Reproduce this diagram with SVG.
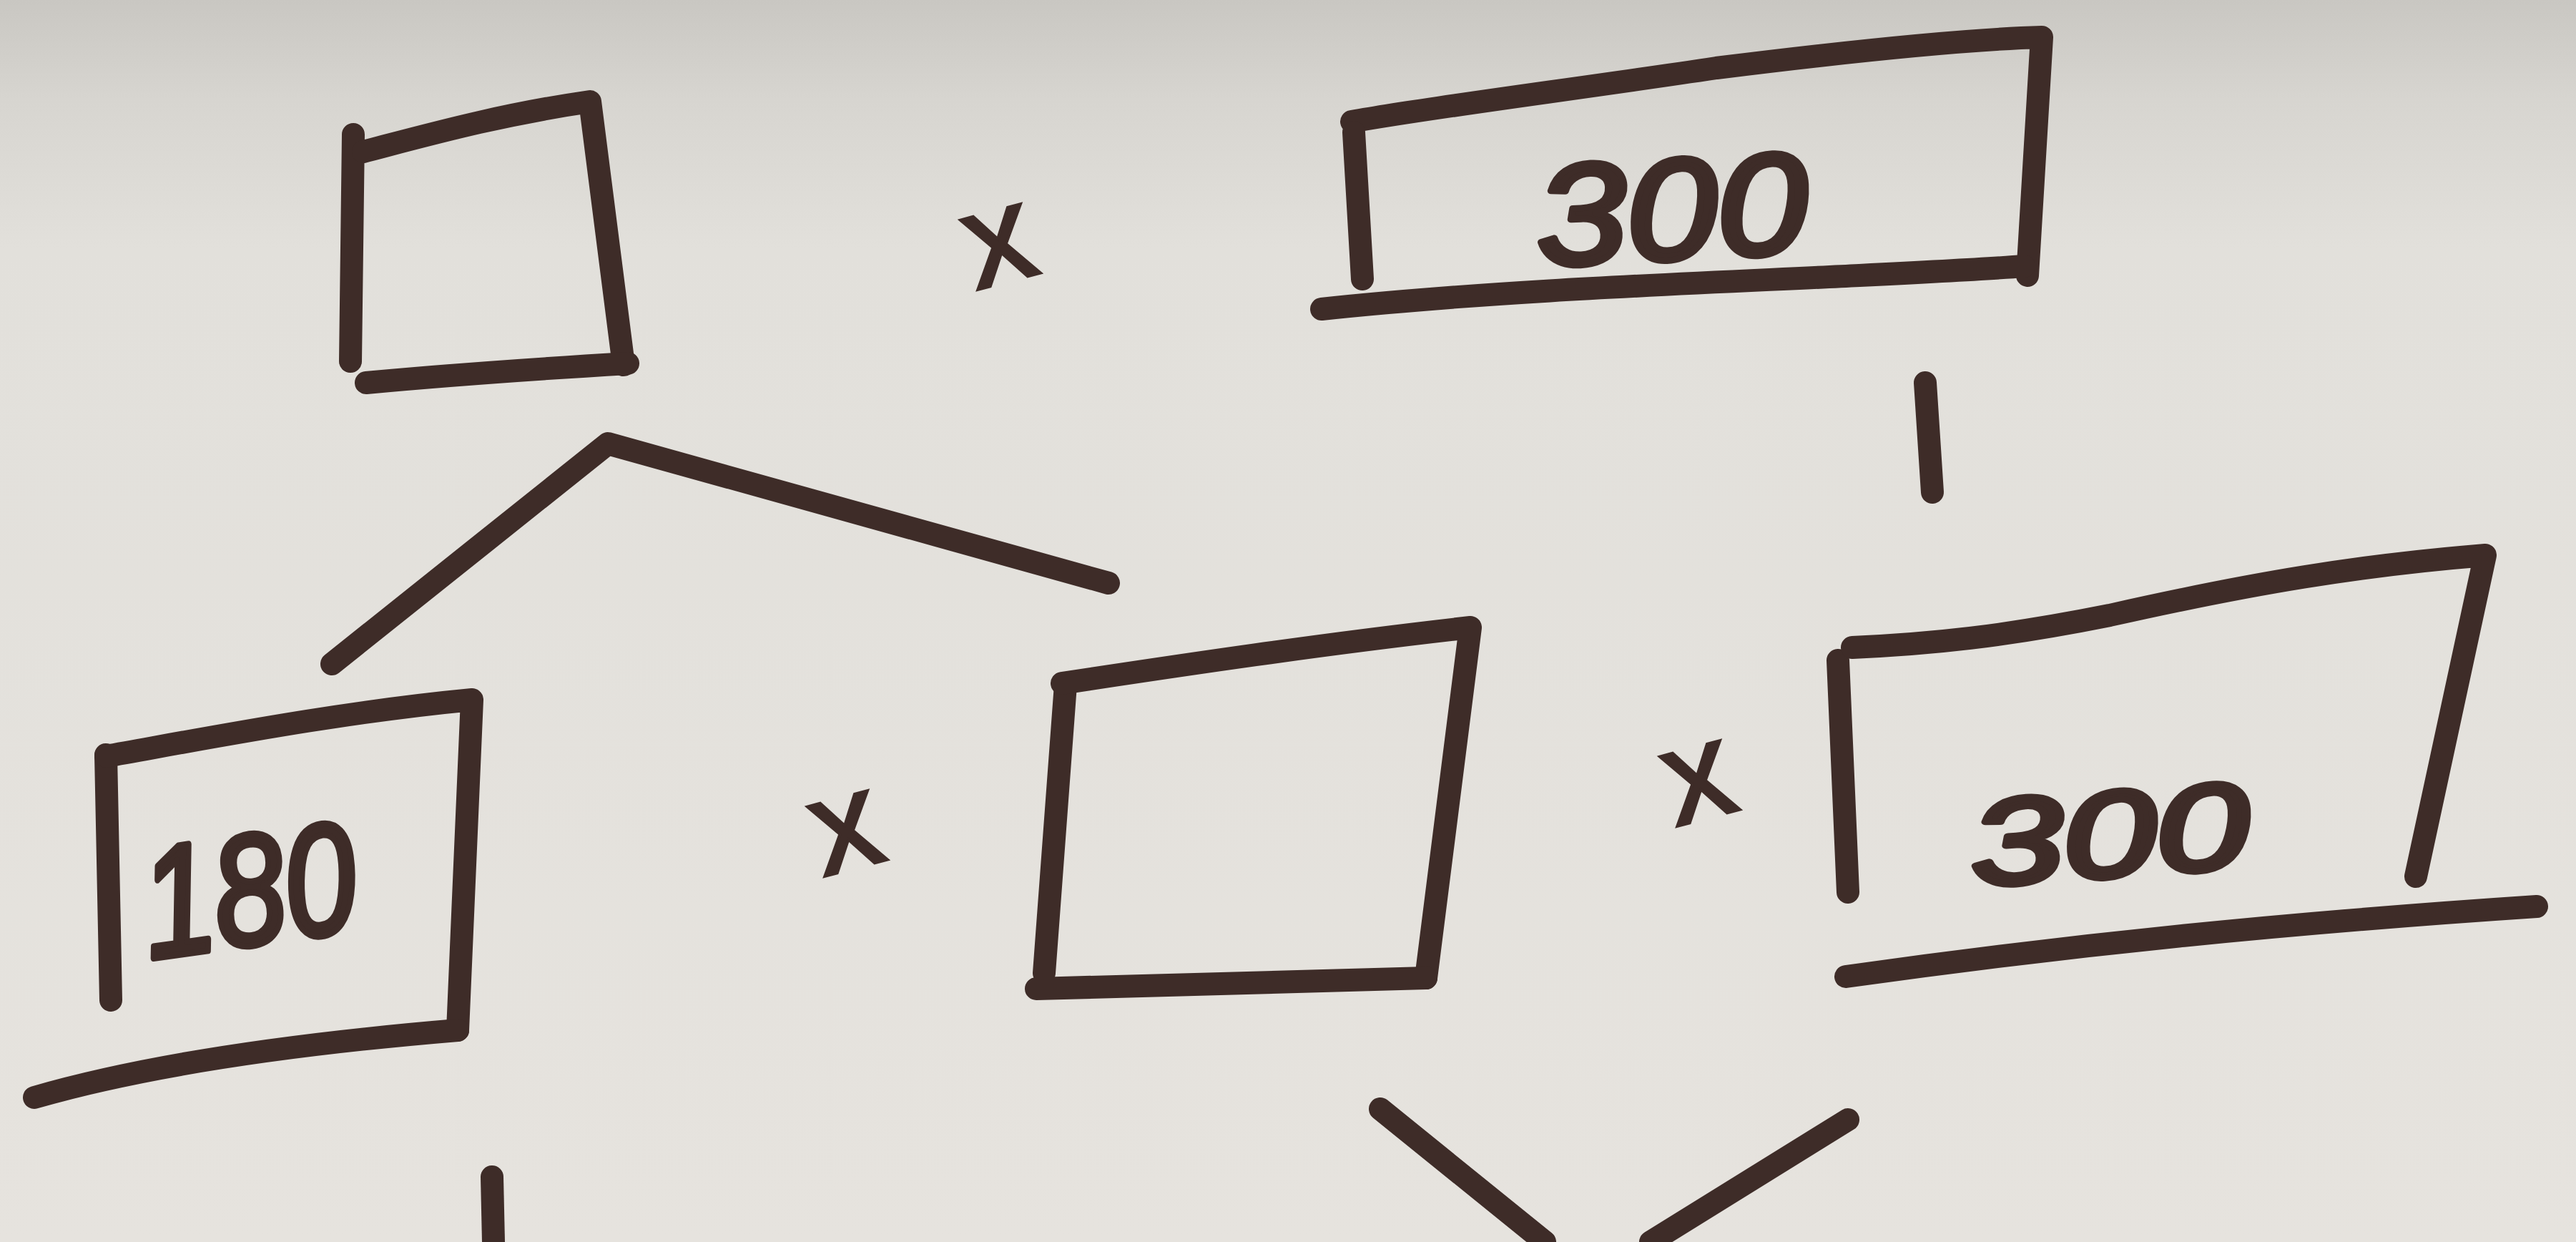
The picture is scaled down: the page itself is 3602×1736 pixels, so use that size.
<svg xmlns="http://www.w3.org/2000/svg" width="3602" height="1736" viewBox="0 0 3602 1736">
<style>
.ink{fill:none;stroke:#3e2c28;stroke-width:32;stroke-linecap:round;stroke-linejoin:round}
.num{fill:#3e2c28;stroke:#3e2c28;stroke-width:9;stroke-linejoin:round;font-family:"Liberation Sans","DejaVu Sans",sans-serif;font-style:italic}
.mul{fill:#3e2c28;stroke:#3e2c28;stroke-width:4;font-family:"Liberation Sans","DejaVu Sans",sans-serif;font-size:190px}
</style>
<defs>
<linearGradient id="paper" x1="0" y1="0" x2="0" y2="1">
<stop offset="0" stop-color="#c9c7c2"/>
<stop offset="0.08" stop-color="#d7d5d0"/>
<stop offset="0.2" stop-color="#e2e0db"/>
<stop offset="1" stop-color="#e6e3de"/>
</linearGradient>
</defs>
<rect width="3602" height="1736" fill="url(#paper)"/>

<g id="box-a">
<path class="ink" d="M494,188 L490,505"/>
<path class="ink" d="M508,212 C600,188 700,160 825,142 L872,510"/>
<path class="ink" d="M512,535 C620,525 760,515 878,508"/>
</g>

<g id="times-1"><text class="mul" x="1397" y="395" text-anchor="middle" transform="rotate(-15 1397 340)">x</text></g>

<g id="box-b">
<path class="ink" d="M1890,170 C2000,150 2200,125 2400,95 C2600,70 2750,55 2855,52 L2835,385"/>
<path class="ink" d="M1893,185 L1905,390"/>
<path class="ink" d="M1848,432 C2100,405 2400,395 2600,385 C2700,380 2780,376 2830,372"/>
<text class="num" x="2338" y="362" font-size="200" text-anchor="middle" textLength="380" lengthAdjust="spacingAndGlyphs" transform="rotate(-3 2338 300)">300</text>
</g>

<g id="box-c">
<path class="ink" d="M148,1055 L155,1398"/>
<path class="ink" d="M148,1057 C300,1030 480,995 660,978 L640,1440"/>
<path class="ink" d="M48,1534 C200,1490 400,1460 640,1440"/>
<text class="num" x="350" y="1320" font-size="220" text-anchor="middle" textLength="300" lengthAdjust="spacingAndGlyphs" transform="rotate(-8 350 1260)">180</text>
</g>

<g id="times-2"><text class="mul" x="1183" y="1215" text-anchor="middle" transform="rotate(-15 1183 1160)">x</text></g>

<g id="box-d">
<path class="ink" d="M1490,957 L1460,1360"/>
<path class="ink" d="M1485,955 C1650,930 1850,900 2056,877 L1994,1367"/>
<path class="ink" d="M1449,1382 C1650,1378 1850,1372 1994,1367"/>
</g>

<g id="times-3"><text class="mul" x="2375" y="1145" text-anchor="middle" transform="rotate(-15 2375 1090)">x</text></g>

<g id="box-e">
<path class="ink" d="M2570,923 L2584,1247"/>
<path class="ink" d="M2590,905 C2700,900 2800,890 2950,860 C3150,815 3300,790 3475,776 L3378,1225"/>
<path class="ink" d="M2581,1365 C2900,1320 3200,1290 3547,1267"/>
<text class="num" x="2950" y="1225" font-size="170" text-anchor="middle" textLength="390" lengthAdjust="spacingAndGlyphs" transform="rotate(-4 2950 1170)">300</text>
</g>

<g id="connectors">
<path class="ink" d="M2692,535 L2702,688"/>
<path class="ink" d="M464,928 L850,620 L1550,815"/>
<path class="ink" d="M688,1645 L690,1736"/>
<path class="ink" d="M1930,1550 L2160,1736"/>
<path class="ink" d="M2308,1736 L2584,1565"/>
</g>
</svg>
